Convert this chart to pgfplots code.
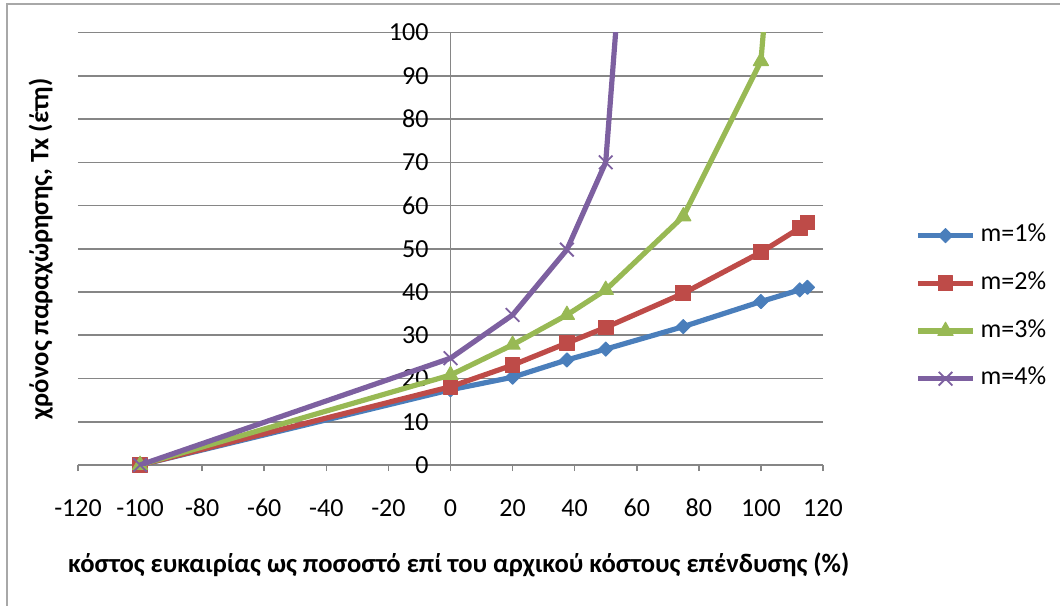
\documentclass[border=0pt]{standalone}
\usepackage{pgfplots}
\pgfplotsset{compat=1.18}
\usepackage{fontspec}
\setmainfont{Carlito}
\definecolor{cblue}{HTML}{4A7EBB}
\definecolor{cred}{HTML}{BE4B48}
\definecolor{cgreen}{HTML}{98B954}
\definecolor{cpurple}{HTML}{7D60A0}
\definecolor{cgrid}{HTML}{868686}
\definecolor{cframe}{HTML}{A8A8A8}
\begin{document}
\begin{tikzpicture}
\begin{axis}[
  at={(0,0)}, anchor=south west,
  width=372.5pt, height=216.2pt, scale only axis,
  xmin=-120, xmax=120, ymin=0, ymax=100,
  axis x line=bottom, axis y line=middle,
  axis line style={draw=cgrid, line width=0.8pt},
  x axis line style={-}, y axis line style={-},
  inner axis line style={-},
  xtick={-120,-100,...,120}, ytick={0,10,...,100},
  hide obscured x ticks=false, hide obscured y ticks=false,
  ymajorgrids, grid style={draw=cgrid, line width=0.8pt},
  xtick align=outside, major tick length=3pt,
  tick style={draw=cgrid, line width=0.8pt},
  ytick style={draw=none},
  /pgf/number format/assume math mode=true,
  tick label style={font=\fontsize{13}{15}\selectfont},
  xticklabel style={yshift=-10pt, text height=9pt, text depth=0pt},
  yticklabel style={xshift=-6pt},
  xlabel={\textbf{κόστος ευκαιρίας ως ποσοστό επί του αρχικού κόστους επένδυσης (\%)}},
  ylabel={\textbf{χρόνος παραχώρησης, Tx (έτη)}},
  label style={font=\fontsize{13.3}{15}\selectfont},
  xlabel style={at={(axis description cs:0.511,-0.231)}, anchor=center},
  ylabel style={at={(axis description cs:-0.05,0.5)}, anchor=center, rotate=90},
  clip mode=individual,
  every axis plot/.append style={line width=2.6pt, line join=round},
  legend style={draw=none, fill=none, at={(axis description cs:1.1235,0.365)}, anchor=west,
    font=\fontsize{13}{15}\selectfont, row sep=11.85pt, column sep=2.5pt, inner sep=0pt,
    nodes={inner sep=0pt, text height=9pt, text depth=3pt}},
  legend cell align=left,
  legend image code/.code={\draw[mark repeat=2,mark phase=2] plot coordinates {(0pt,0pt) (13.75pt,0pt) (27.5pt,0pt)};},
]
\addplot[cblue, mark=square*, mark options={fill=cblue, line width=0.5pt, mark size=2.5pt, rotate=45}]
  coordinates {(-100,0) (0,17.4) (20,20.3) (37.5,24.3) (50,26.8) (75,32.0) (100,37.8) (112.5,40.5) (115,41.1)};
\addplot[cred, mark=square*, mark options={fill=cred, line width=0.5pt, mark size=3.7pt}]
  coordinates {(-100,0) (0,18.1) (20,23.1) (37.5,28.2) (50,31.8) (75,39.7) (100,49.2) (112.5,54.8) (115,56.1)};
\addplot[cgreen, mark=triangle*, mark options={fill=cgreen, line width=0.5pt, mark size=4.4pt}]
  coordinates {(-100,0) (0,20.8) (20,27.8) (37.5,34.7) (50,40.5) (75,57.5) (100,93.4) (112.5,200)};
\addplot[cpurple, mark=x, mark options={line width=0.9pt, mark size=4.8pt}]
  coordinates {(-100,0) (0,24.7) (20,34.7) (37.5,49.8) (50,70.0) (75,305)};
\legend{m=1\%, m=2\%, m=3\%, m=4\%}
\end{axis}
\pgfresetboundingbox
\path[use as bounding box] (-39pt,-70pt) rectangle (491pt,232.5pt);
\draw[cframe, line width=1pt] (-35.25pt,-71pt) -- (-35.25pt,230.5pt) -- (492pt,230.5pt);
\end{tikzpicture}
\end{document}
